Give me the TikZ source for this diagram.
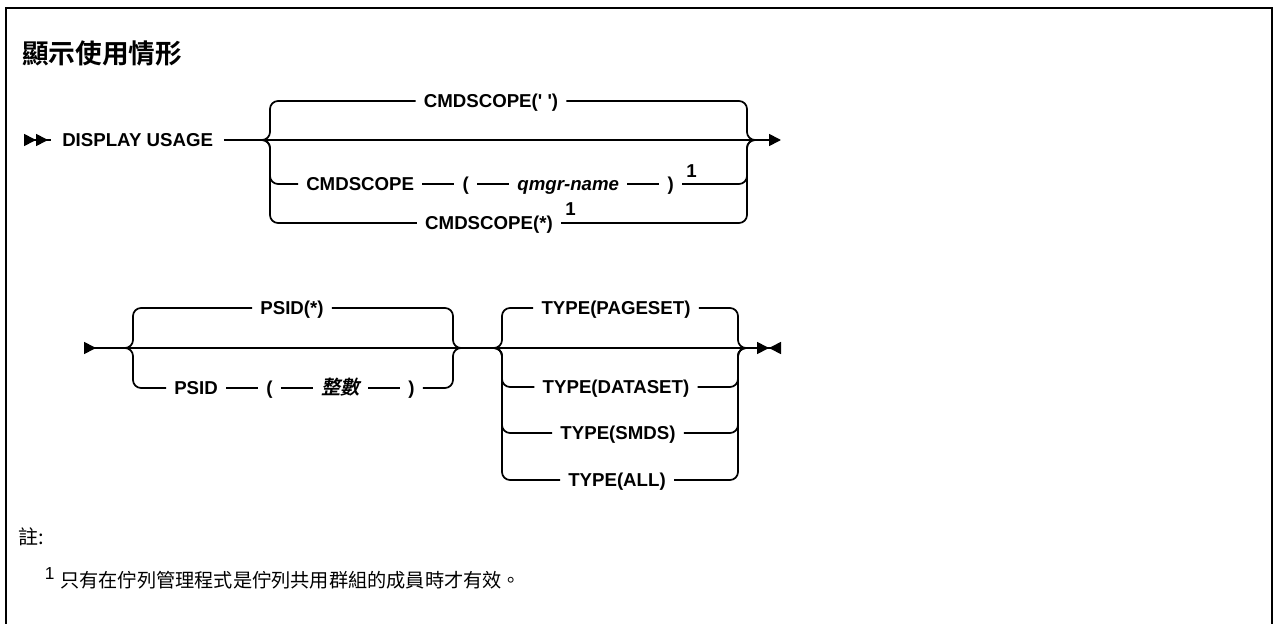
\documentclass[tikz,border=0pt]{standalone}
\usepackage{fontspec}
\setmainfont{Liberation Sans}
\newfontfamily\cjkfont{Noto Sans CJK TC}
\newfontfamily\cjkbold{Noto Sans CJK TC Bold}
\newfontfamily\cjkslant{Noto Sans CJK TC Bold}[FakeSlant=0.2]
\usetikzlibrary{arrows.meta,positioning}
\tikzset{
  railtext/.style={
    inner sep=0pt,
    text height=10.2pt,
    text depth=0pt,
    font=\fontsize{14}{17}\selectfont\bfseries
  },
  railvar/.style={railtext, font=\fontsize{14}{17}\selectfont\bfseries\itshape},
  railline/.style={line width=1.3pt, rounded corners=6pt},
  railgap/.style={railline, shorten <=6pt, shorten >=6pt},
  footmark/.style={railtext, anchor=west},
  startmark/.style={{Triangle[reversed,length=9pt,width=9pt]Triangle[reversed,length=9pt,width=9pt]}-},
  nextmark/.style={-{Triangle[length=9pt,width=9pt]}},
  endmark/.style={{Triangle[reversed,length=9pt,width=9pt]}-{Triangle[length=9pt,width=9pt]Triangle[reversed,length=9pt,width=9pt]}}
}

\begin{document}
\begin{tikzpicture}[x=0.75pt, y=-0.75pt, node distance=36pt]
  \useasboundingbox (0,0) rectangle (1274,624);
  \draw[line width=1.5pt] (6,624) -- (6,8.5) -- (1272,8.5) -- (1272,624);

  \node[anchor=west, inner sep=0pt, font=\cjkbold\fontsize{20}{24}\selectfont] (title) at (22,53) {顯示使用情形};

  % first line: DISPLAY USAGE and CMDSCOPE
  \coordinate (start1) at (24,140);
  \node[railtext, anchor=west] (disp) at (62,140) {DISPLAY USAGE};
  \coordinate (c1ll) at (258,140);
  \coordinate (c1l) at (270,140);
  \coordinate (c1r) at (747,140);
  \coordinate (c1rr) at (759,140);
  \coordinate (end1) at (781,140);

  \node[railtext] (scope1) at (491,101) {CMDSCOPE(\textquotesingle\ \textquotesingle)};
  \node[railtext, anchor=west] (scope2) at (306,184) {CMDSCOPE};
  \node[railtext, right=of scope2] (lpar2) {(};
  \node[railvar, right=of lpar2] (qmgr) {qmgr-name};
  \node[railtext, right=of qmgr] (rpar2) {)};
  \node[footmark] (fn2) at ([xshift=9pt, yshift=10pt]rpar2.east) {1};
  \node[railtext] (scope3) at (489,223) {CMDSCOPE(*)};
  \node[footmark] (fn3) at ([xshift=9pt, yshift=11pt]scope3.east) {1};

  \draw[startmark, railline] (start1) -- ([xshift=-8pt]disp.west);
  \draw[nextmark, railline] ([xshift=8pt]disp.east) -- (end1);
  \foreach \opt in {scope1, scope3} {
    \draw[railline] (c1ll) -| (c1l |- \opt) -- ([xshift=-6pt]\opt.west);
    \draw[railline] ([xshift=6pt]\opt.east) -| (c1r) -- (c1rr);
  }
  \draw[railline] (c1ll) -| (c1l |- scope2) -- ([xshift=-6pt]scope2.west);
  \draw[railgap] (scope2) -- (lpar2);
  \draw[railgap] (lpar2) -- (qmgr);
  \draw[railgap] (qmgr) -- (rpar2);
  \draw[railline] ([xshift=6pt]rpar2.east) -| (c1r) -- (c1rr);

  % second line: PSID and TYPE
  \coordinate (start2) at (84,348);
  \coordinate (end2) at (781,348);
  \coordinate (c2ll) at (121,348);
  \coordinate (c2l) at (133,348);
  \coordinate (c2r) at (453,348);
  \coordinate (c2rr) at (465,348);
  \coordinate (c3ll) at (490,348);
  \coordinate (c3l) at (502,348);
  \coordinate (c3r) at (738,348);
  \coordinate (c3rr) at (750,348);

  \node[railtext] (psid1) at (292,308) {PSID(*)};
  \node[railtext, anchor=west] (psid2) at (174,388) {PSID};
  \node[railtext, right=of psid2] (lpar4) {(};
  \node[railtext, font=\cjkslant\fontsize{14.5}{17}\selectfont, right=of lpar4] (intval) {整數};
  \node[railtext, right=of intval] (rpar4) {)};

  \node[railtext] (pageset) at (616,308) {TYPE(PAGESET)};
  \node[railtext] (dataset) at (616,387) {TYPE(DATASET)};
  \node[railtext] (smds) at (618,433) {TYPE(SMDS)};
  \node[railtext] (alltype) at (617,480) {TYPE(ALL)};

  \draw[endmark, railline] (start2) -- (end2);
  \draw[railline] (c2ll) -| (c2l |- psid1) -- ([xshift=-6pt]psid1.west);
  \draw[railline] ([xshift=6pt]psid1.east) -| (c2r) -- (c2rr);
  \draw[railline] (c2ll) -| (c2l |- psid2) -- ([xshift=-6pt]psid2.west);
  \draw[railgap] (psid2) -- (lpar4);
  \draw[railgap] (lpar4) -- (intval);
  \draw[railgap] (intval) -- (rpar4);
  \draw[railline] ([xshift=6pt]rpar4.east) -| (c2r) -- (c2rr);
  \foreach \opt in {pageset, dataset, smds, alltype} {
    \draw[railline] (c3ll) -| (c3l |- \opt) -- ([xshift=-6pt]\opt.west);
    \draw[railline] ([xshift=6pt]\opt.east) -| (c3r) -- (c3rr);
  }

  % notes
  \node[anchor=west, inner sep=0pt, font=\cjkfont\fontsize{15}{18}\selectfont] (notehead) at (18,537) {註:};
  \node[anchor=west, inner sep=0pt, font=\cjkfont\fontsize{14.4}{18}\selectfont] (note1) at (60,580) {只有在佇列管理程式是佇列共用群組的成員時才有效。};
  \node[anchor=east, inner sep=0pt, font=\fontsize{13}{15}\selectfont] (note1mark) at ([xshift=-4pt, yshift=5pt]note1.west) {1};
\end{tikzpicture}
\end{document}
